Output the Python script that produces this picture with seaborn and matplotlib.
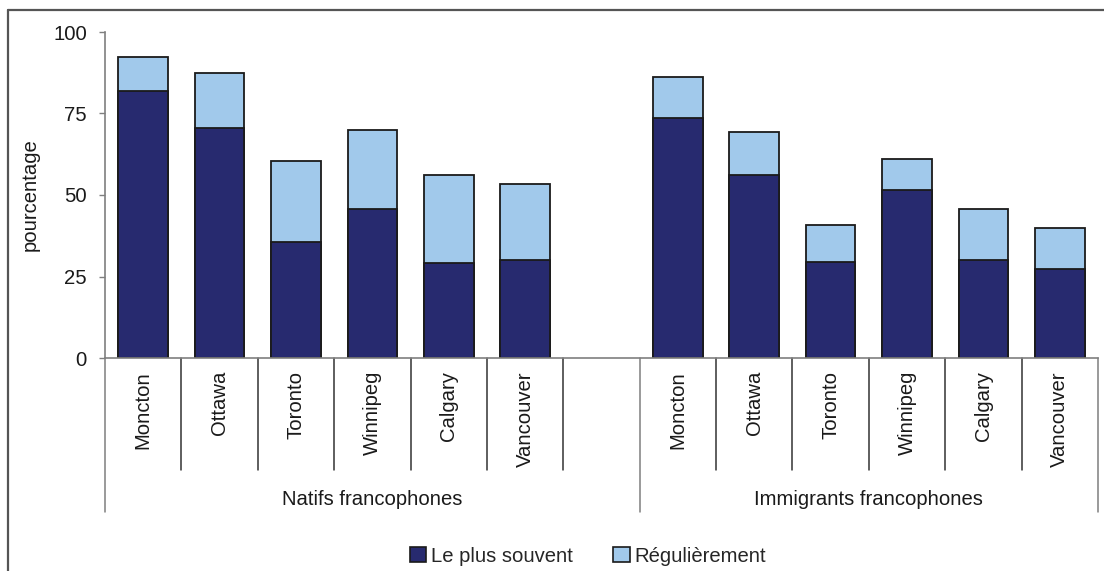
import matplotlib
matplotlib.use("Agg")
import matplotlib.pyplot as plt
import seaborn as sns
import pandas as pd
from matplotlib.lines import Line2D
from matplotlib.patches import Patch

cities = ["Moncton", "Ottawa", "Toronto", "Winnipeg", "Calgary", "Vancouver"]
groups = ["Natifs francophones", "Immigrants francophones"]
natifs_plus_souvent = [82, 70.5, 35.5, 45.7, 29, 30]
natifs_total = [92.3, 87.3, 60.4, 69.9, 56.2, 53.3]
immig_plus_souvent = [73.5, 56, 29.5, 51.4, 30, 27.3]
immig_total = [86.1, 69.4, 40.7, 61.1, 45.8, 39.9]
series_names = ["Le plus souvent", "Régulièrement"]
yticks = [0, 25, 50, 75, 100]

dark = "#272a6f"
light = "#a1c9eb"
gray = "#7f7f7f"
fs = 14.6

rows = []
for i, c in enumerate(cities):
    rows.append({"key": "N_" + c, "dark": natifs_plus_souvent[i], "total": natifs_total[i]})
for i, c in enumerate(cities):
    rows.append({"key": "I_" + c, "dark": immig_plus_souvent[i], "total": immig_total[i]})
df = pd.DataFrame(rows)
order = ["N_" + c for c in cities] + ["gap"] + ["I_" + c for c in cities]
labels = cities + [""] + cities

sns.set_style("white")
plt.rcParams["font.family"] = ["Liberation Sans", "DejaVu Sans"]

fig = plt.figure(figsize=(11.04, 5.71), dpi=100)
ax = fig.add_axes([105 / 1104, 1 - 358 / 571, (1098 - 105) / 1104, (358 - 32) / 571])

sns.barplot(data=df, x="key", y="total", order=order, color=light, width=0.65,
            edgecolor="#1a1a1a", linewidth=1.3, saturation=1, ax=ax)
sns.barplot(data=df, x="key", y="dark", order=order, color=dark, width=0.65,
            edgecolor="#1a1a1a", linewidth=1.3, saturation=1, ax=ax)

ax.set_xlim(-0.5, 12.5)
ax.set_ylim(0, 100)
ax.set_yticks(yticks)
ax.set_yticklabels([str(v) for v in yticks], fontsize=fs, color="#1a1a1a")
ax.tick_params(axis="y", length=4, width=1, color=gray, pad=9, left=True)
ax.set_xticks([])
ax.set_xlabel("")
ax.set_ylabel("pourcentage", fontsize=fs, color="#1a1a1a", labelpad=10)

for s in ["top", "right"]:
    ax.spines[s].set_visible(False)
for s in ["left", "bottom"]:
    ax.spines[s].set_color(gray)
    ax.spines[s].set_linewidth(1.2)

trans = ax.get_xaxis_transform()
for k in range(14):
    xb = k - 0.5
    long_line = k in (0, 7, 13)
    depth = -0.472 if long_line else -0.344
    ax.plot([xb, xb], [0, depth], color=gray if long_line else "#333333",
            lw=1.1, transform=trans, clip_on=False)

for i, lab in enumerate(labels):
    if lab:
        ax.text(i, -0.040, lab, rotation=90, ha="center", va="top", fontsize=fs,
                color="#1a1a1a", transform=trans)

ax.text(3.0, -0.433, groups[0], ha="center", va="center", fontsize=fs,
        color="#1a1a1a", transform=trans)
ax.text(9.5, -0.433, groups[1], ha="center", va="center", fontsize=fs,
        color="#1a1a1a", transform=trans)

handles = [Patch(facecolor=dark, edgecolor="#1a1a1a", linewidth=1.2),
           Patch(facecolor=light, edgecolor="#1a1a1a", linewidth=1.2)]
fig.legend(handles, series_names, loc="center", bbox_to_anchor=(588 / 1104, 1 - 556 / 571),
           ncol=2, frameon=False, fontsize=fs, handlelength=0.8, handleheight=0.8,
           handletextpad=0.25, columnspacing=2.0, borderaxespad=0)

fx = 8 / 1104
fy = 1 - 10 / 571
fig.add_artist(Line2D([fx, 1], [fy, fy], color="#555555", lw=1.6, transform=fig.transFigure))
fig.add_artist(Line2D([fx, fx], [0, fy], color="#555555", lw=1.6, transform=fig.transFigure))

fig.savefig("out.png", dpi=100)
